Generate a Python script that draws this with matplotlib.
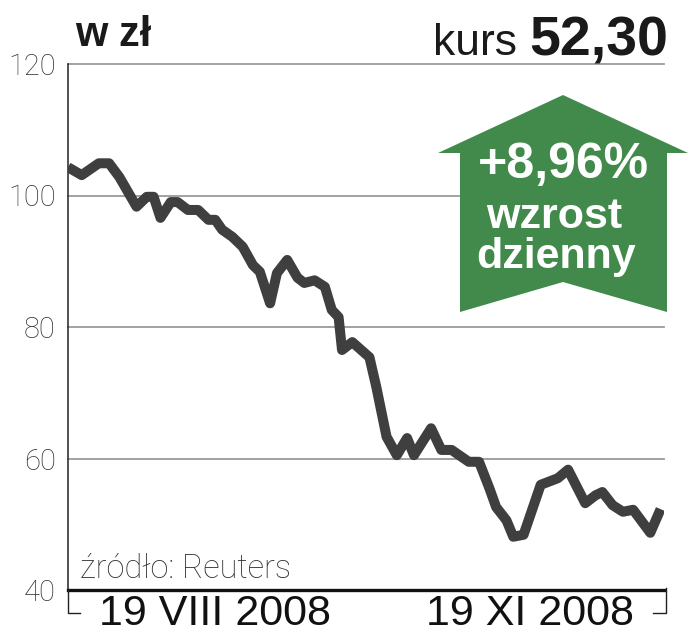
import matplotlib
matplotlib.use("Agg")
import matplotlib.pyplot as plt
import numpy as np
import pandas as pd
from matplotlib.patches import Polygon
from matplotlib.lines import Line2D

# ---------------- data ----------------
start_date = "2008-07-07"
day_offsets = [0, 4, 9, 12, 15, 20, 23, 25, 27, 30, 32, 35, 38, 41, 43, 45, 48, 51, 54, 56,
               59, 61, 64, 67, 69, 72, 75, 77, 79, 80, 83, 88, 90, 93, 96, 99, 101, 106, 109, 112,
               117, 120, 123, 125, 128, 130, 133, 138, 143, 146, 151, 154, 156, 159, 162, 165, 170, 173]
prices = [104.3, 103.1, 104.9, 104.9, 102.8, 98.3, 99.8, 99.8, 96.6, 99.0,
          99.0, 97.8, 97.8, 96.3, 96.3, 94.8, 93.7, 92.2, 89.4, 88.4,
          83.6, 88.2, 90.2, 87.5, 86.7, 87.1, 86.1, 82.6, 81.5, 76.5,
          77.7, 75.4, 70.9, 63.3, 60.5, 63.1, 60.5, 64.6, 61.3, 61.3,
          59.5, 59.5, 55.5, 52.6, 50.6, 48.1, 48.4, 56.0, 57.0, 58.3,
          53.2, 54.4, 54.9, 52.9, 51.9, 52.2, 48.7, 52.3]
x_tick_dates = ["2008-08-19", "2008-11-19"]
x_tick_labels = ["19 VIII 2008", "19 XI 2008"]
y_ticks = [40, 60, 80, 100, 120]
unit_label = "w zł"
price_label = "kurs"
price_value = "52,30"
change_text = "+8,96%"
change_words = ["wzrost", "dzienny"]
source_text = "źródło: Reuters"

dates = pd.Timestamp(start_date) + pd.to_timedelta(day_offsets, unit="D")

# ---------------- figure ----------------
W, H = 689, 640
fig = plt.figure(figsize=(W / 100, H / 100), dpi=100)
FONT = ["Liberation Sans", "DejaVu Sans"]
LIGHT = ["Roboto", "Liberation Sans", "DejaVu Sans"]

def fx(px):
    return px / W

def fy(py):
    return 1 - py / H

ax_left, ax_right, ax_top, ax_bottom = 68, 664, 64, 590
ax = fig.add_axes([fx(ax_left), fy(ax_bottom), fx(ax_right - ax_left), (ax_bottom - ax_top) / H])

ax.set_ylim(40, 120)
ax.set_xlim(pd.Timestamp(start_date), pd.Timestamp(start_date) + pd.Timedelta(days=174))

for v in y_ticks[1:]:
    ax.axhline(v, color="#9a9a9a", lw=1.3, zorder=1, clip_on=False)

ax.plot(dates, prices, color="#3f3f3f", lw=7.2, solid_joinstyle="round",
        solid_capstyle="butt", zorder=3)

for s in ["top", "right"]:
    ax.spines[s].set_visible(False)
ax.spines["left"].set_linewidth(1.1)
ax.spines["left"].set_color("#222222")
ax.spines["bottom"].set_linewidth(2.4)
ax.spines["bottom"].set_color("#111111")
ax.spines["bottom"].set_zorder(4)

ax.set_yticks(y_ticks)
ax.set_yticklabels([str(v) for v in y_ticks], family=LIGHT, fontweight="light",
                   fontsize=21, color="#333333")
ax.tick_params(axis="y", length=0, pad=9)

ax.set_xticks(pd.to_datetime(x_tick_dates))
ax.set_xticklabels(x_tick_labels, family=FONT, fontsize=31, color="#111111")
ax.tick_params(axis="x", length=0, pad=3)

# bracket below the x axis
for xs, ys in [([68, 68, 80], [590, 613, 613]), ([666, 666, 653], [588, 613, 613])]:
    fig.add_artist(Line2D([fx(x) for x in xs], [fy(y) for y in ys], color="#222222",
                          lw=1.0, transform=fig.transFigure))

# header texts
fig.text(fx(75), fy(46), unit_label, family=FONT, fontweight="bold", fontsize=30,
         color="#1a1a1a", ha="left", va="baseline")
fig.text(fx(668), fy(55), price_value, family=FONT, fontweight="bold", fontsize=40,
         color="#1a1a1a", ha="right", va="baseline")
fig.text(fx(517), fy(55), price_label, family=FONT, fontsize=32,
         color="#1a1a1a", ha="right", va="baseline")

# source
fig.text(fx(80), fy(578), source_text, family=LIGHT, fontweight="light", fontsize=23.5,
         color="#333333", ha="left", va="baseline")

# green arrow
arrow_px = [(563, 95), (688, 153), (667, 153), (667, 312), (563, 282),
            (460, 312), (460, 153), (438, 153)]
arrow = Polygon([(fx(x), fy(y)) for x, y in arrow_px], closed=True,
                facecolor="#418a4b", edgecolor="none", transform=fig.transFigure, zorder=5)
fig.add_artist(arrow)

fig.text(fx(563), fy(178), change_text, family=FONT, fontweight="bold", fontsize=36,
         color="white", ha="center", va="baseline", zorder=6)
fig.text(fx(554), fy(228), change_words[0], family=FONT, fontweight="bold", fontsize=31,
         color="white", ha="center", va="baseline", zorder=6)
fig.text(fx(556), fy(268), change_words[1], family=FONT, fontweight="bold", fontsize=31,
         color="white", ha="center", va="baseline", zorder=6)

fig.savefig("out.png", dpi=100)
